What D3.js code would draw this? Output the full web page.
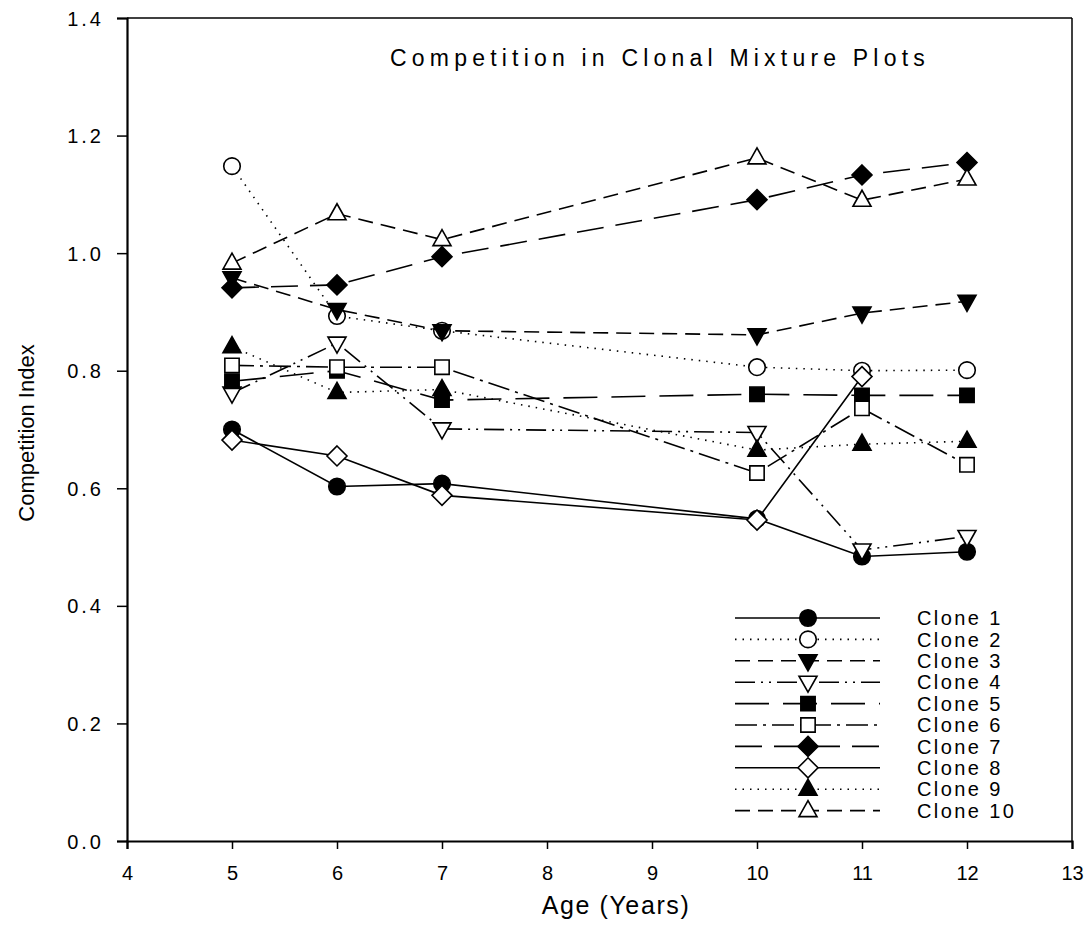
<!DOCTYPE html>
<html>
<head>
<meta charset="utf-8">
<script src="https://cdn.jsdelivr.net/npm/d3@7"></script>
<style>
  body { margin: 0; background: #fff; }
  text { font-family: "Liberation Sans", Arial, sans-serif; fill: #000; }
</style>
</head>
<body>
<div id="chart"></div>
<script>
// data
var ages = [5, 6, 7, 10, 11, 12];
var clone1  = [0.700, 0.603, 0.608, 0.548, 0.484, 0.492];
var clone2  = [1.148, 0.893, 0.868, 0.806, 0.800, 0.801];
var clone3  = [0.958, 0.904, 0.868, 0.861, 0.898, 0.918];
var clone4  = [0.762, 0.847, 0.701, 0.695, 0.495, 0.518];
var clone5  = [0.782, 0.800, 0.750, 0.760, 0.758, 0.758];
var clone6  = [0.809, 0.806, 0.806, 0.626, 0.736, 0.640];
var clone7  = [0.941, 0.946, 0.994, 1.091, 1.133, 1.154];
var clone8  = [0.682, 0.655, 0.588, 0.546, 0.790, null];
var clone9  = [0.841, 0.763, 0.768, 0.665, 0.675, 0.680];
var clone10 = [0.983, 1.067, 1.023, 1.162, 1.090, 1.126];
var cloneNames = ["Clone 1", "Clone 2", "Clone 3", "Clone 4", "Clone 5",
                  "Clone 6", "Clone 7", "Clone 8", "Clone 9", "Clone 10"];
var xTicks = [4, 5, 6, 7, 8, 9, 10, 11, 12, 13];
var yTicks = [0, 0.2, 0.4, 0.6, 0.8, 1.0, 1.2, 1.4];

var allSeries = [clone1, clone2, clone3, clone4, clone5, clone6, clone7, clone8, clone9, clone10];

// marker shape, filled?, dash pattern for each clone
var styles = [
  {shape: "circle",   fill: true,  dash: null},
  {shape: "circle",   fill: false, dash: "1.5,6"},
  {shape: "triDown",  fill: true,  dash: "15,8"},
  {shape: "triDown",  fill: false, dash: "20,6,2,6,2,6"},
  {shape: "square",   fill: true,  dash: "34,14"},
  {shape: "square",   fill: false, dash: "22,6,3,6"},
  {shape: "diamond",  fill: true,  dash: "27,12"},
  {shape: "diamond",  fill: false, dash: null},
  {shape: "triUp",    fill: true,  dash: "1.5,6"},
  {shape: "triUp",    fill: false, dash: "15,8"}
];

var W = 1089, H = 939;
var margin = {top: 18, right: 17, bottom: 98, left: 127};
var width = W - margin.left - margin.right,
    height = H - margin.top - margin.bottom;

var svg = d3.select("#chart").append("svg")
    .attr("width", W)
    .attr("height", H)
  .append("g")
    .attr("transform", "translate(" + margin.left + "," + margin.top + ")");

var x = d3.scaleLinear().domain([4, 13]).range([0, width]);
var y = d3.scaleLinear().domain([0, 1.4]).range([height, 0]);

// frame top / right
svg.append("line").attr("x1", 0).attr("x2", width).attr("y1", 0).attr("y2", 0)
  .attr("stroke", "#000").attr("stroke-width", 1.5);
svg.append("line").attr("x1", width).attr("x2", width).attr("y1", 0).attr("y2", height)
  .attr("stroke", "#000").attr("stroke-width", 1.5);

var xAxis = svg.append("g")
  .attr("transform", "translate(0," + height + ")")
  .call(d3.axisBottom(x).tickValues(xTicks).tickSize(8).tickPadding(17)
        .tickFormat(d3.format("d")));

var yAxis = svg.append("g")
  .call(d3.axisLeft(y).tickValues(yTicks).tickSize(10).tickPadding(13)
        .tickFormat(d3.format(".1f")));

[xAxis, yAxis].forEach(function(a){
  a.select(".domain").attr("stroke-width", 2.2);
  a.selectAll(".tick line").attr("stroke-width", 1.5);
  a.selectAll("text").attr("font-family", null).attr("font-size", 20);
});
yAxis.selectAll("text").attr("letter-spacing", "3px").attr("dy", "0.35em");
xAxis.selectAll("text")
  .style("font-family", "'Liberation Sans Narrow', 'Liberation Sans', Arial");

function markerPath(shape) {
  if (shape == "circle") return d3.symbol().type(d3.symbolCircle).size(215)();
  if (shape == "square") return d3.symbol().type(d3.symbolSquare).size(205)();
  if (shape == "diamond") return "M0,-10L10,0L0,10L-10,0Z";
  if (shape == "triUp") return "M0,-10L9,6L-9,6Z";
  return "M0,10L9,-6L-9,-6Z";
}

var line = d3.line()
  .defined(function(d){ return d.v != null; })
  .x(function(d){ return x(d.age); })
  .y(function(d){ return y(d.v); });

allSeries.forEach(function(vals, i){
  var st = styles[i];
  var pts = ages.map(function(a, j){ return {age: a, v: vals[j]}; });
  svg.append("path")
    .datum(pts)
    .attr("d", line)
    .attr("fill", "none")
    .attr("stroke", "#000")
    .attr("stroke-width", 1.6)
    .attr("stroke-dasharray", st.dash);
  svg.selectAll(".m" + i)
    .data(pts.filter(function(d){ return d.v != null; }))
    .enter().append("path")
    .attr("class", "m" + i)
    .attr("transform", function(d){ return "translate(" + x(d.age) + "," + y(d.v) + ")"; })
    .attr("d", markerPath(st.shape))
    .attr("fill", st.fill ? "#000" : "#fff")
    .attr("stroke", "#000")
    .attr("stroke-width", 1.6);
});

// legend
var lg = svg.append("g").attr("transform", "translate(" + (735 - margin.left) + "," + (618 - margin.top) + ")");
cloneNames.forEach(function(name, i){
  var st = styles[i];
  var row = lg.append("g").attr("transform", "translate(0," + (i * 21.4) + ")");
  row.append("line").attr("x1", 0).attr("x2", 145).attr("y1", 0).attr("y2", 0)
    .attr("stroke", "#000").attr("stroke-width", 1.6)
    .attr("stroke-dasharray", st.dash);
  row.append("path").attr("transform", "translate(73,0)")
    .attr("d", markerPath(st.shape))
    .attr("fill", st.fill ? "#000" : "#fff")
    .attr("stroke", "#000").attr("stroke-width", 1.6);
  row.append("text").attr("x", 182).attr("y", 0).attr("dy", "0.36em")
    .attr("font-size", 20).attr("letter-spacing", "2.4px").text(name);
});

// title and axis labels
svg.append("text").attr("x", 660 - margin.left).attr("y", 66 - margin.top)
  .attr("text-anchor", "middle").attr("font-size", 23).attr("letter-spacing", "5.2px")
  .text("Competition in Clonal Mixture Plots");

svg.append("text").attr("x", 616 - margin.left).attr("y", 914 - margin.top)
  .attr("text-anchor", "middle").attr("font-size", 25).attr("letter-spacing", "1.6px")
  .text("Age (Years)");

svg.append("text")
  .attr("transform", "translate(" + (34 - margin.left) + "," + (433 - margin.top) + ") rotate(-90)")
  .attr("text-anchor", "middle").attr("font-size", 22)
  .style("font-family", "'Liberation Sans Narrow', 'Liberation Sans', Arial")
  .text("Competition Index");
</script>
</body>
</html>
